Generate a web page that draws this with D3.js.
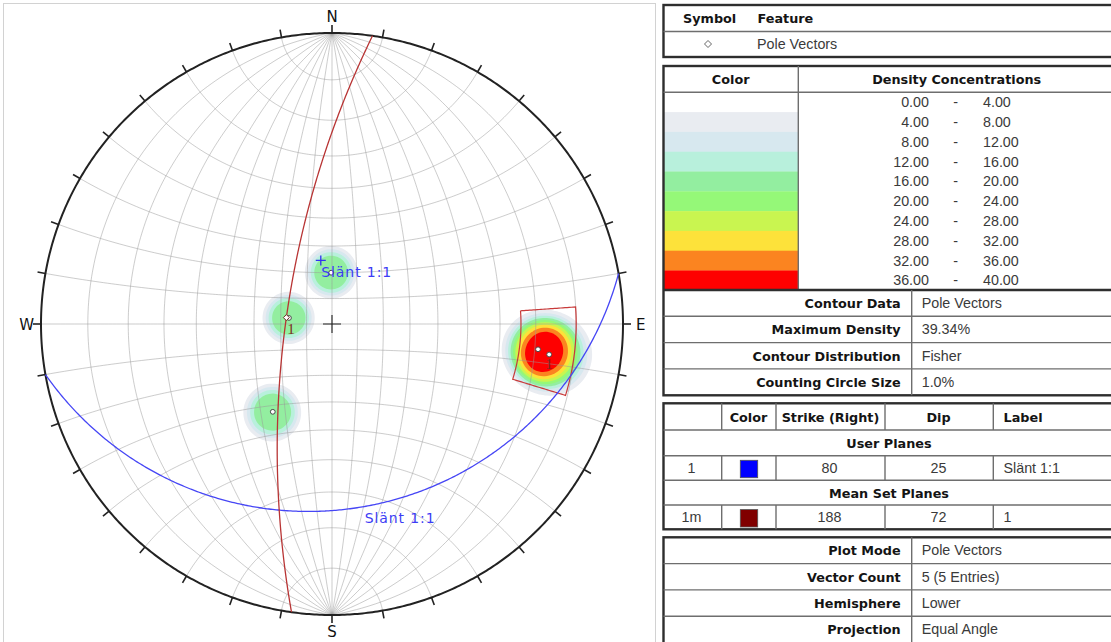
<!DOCTYPE html>
<html lang="en">
<head>
<meta charset="UTF-8">
<title>Stereonet - Pole Vectors</title>
<script src="https://d3js.org/d3.v7.min.js"></script>
<style>
  body { margin: 0; background: #fff; }
  svg { display: block; }
</style>
</head>
<body>
<svg id="chart" width="1111" height="642"></svg>
<script>
// pole vectors, trend / plunge in degrees
const poleTrend  = [97, 98, 278, 214, 359];
const polePlunge = [19, 16, 73, 50, 70];

// planes (strike right-hand rule / dip)
const planeSet    = ["User Planes", "Mean Set Planes"];
const planeId     = ["1", "1m"];
const planeStrike = [80, 188];
const planeDip    = [25, 72];
const planeLabel  = ["Slänt 1:1", "1"];
const planeSwatch = ["#0000ff", "#800000"];
const planeLine   = ["#4646f5", "#b83434"];

// set window limits
const windowTrend  = [86, 107];
const windowPlunge = [10, 24];

// density legend
const densityBreaks = [0, 4, 8, 12, 16, 20, 24, 28, 32, 36, 40];
const densityColors = ["#ffffff", "#e9ecf1", "#d7e8ef", "#b8f0dc", "#93eea0",
                       "#95f878", "#c9f550", "#fde23a", "#fb8420", "#fe0000"];

const contourKeys   = ["Contour Data", "Maximum Density", "Contour Distribution", "Counting Circle Size"];
const contourValues = ["Pole Vectors", "39.34%", "Fisher", "1.0%"];
const plotKeys      = ["Plot Mode", "Vector Count", "Hemisphere", "Projection"];
const plotValues    = ["Pole Vectors", "5 (5 Entries)", "Lower", "Equal Angle"];

const compass = [["N", 0], ["E", 90], ["S", 180], ["W", 270]];

const svg = d3.select("#chart");
const cx = 332, cy = 324, R = 291;
const rad = Math.PI / 180;

// equal angle = stereographic, centred on the nadir, N up
const proj = d3.geoStereographic().scale(R).translate([cx, cy]).precision(0.1);
const projClip = d3.geoStereographic().scale(R).translate([cx, cy]).clipAngle(90).precision(0.1);
const path = d3.geoPath(proj);
const clipPath = d3.geoPath(projClip);

function toGeo(trend, plunge) {
    const t = trend * rad, p = plunge * rad;
    const n = Math.cos(p) * Math.cos(t), e = Math.cos(p) * Math.sin(t), d = Math.sin(p);
    return [Math.atan2(e, d) / rad, Math.asin(n) / rad];
}

// panel frame
svg.append("rect")
    .attr("x", 3.5).attr("y", 3.5).attr("width", 652).attr("height", 660)
    .attr("fill", "none").attr("stroke", "#d2d2d2");

// ---- density (fisher-like weighting of the poles) ----
const kernelWidth = 9, kernelPower = 4.5;
const step = 2;
const nGrid = Math.ceil(2 * R / step) + 1;
const gx0 = cx - R, gy0 = cy - R;
const poleGeo = poleTrend.map((t, i) => toGeo(t, polePlunge[i]));
const dens = new Float64Array(nGrid * nGrid);
for (let j = 0; j < nGrid; j++) {
    for (let i = 0; i < nGrid; i++) {
        const x = gx0 + i * step, y = gy0 + j * step;
        if ((x - cx) ** 2 + (y - cy) ** 2 > R * R) continue;
        const g = proj.invert([x, y]);
        let sum = 0;
        poleGeo.forEach(p => {
            let th = d3.geoDistance(g, p) / rad;
            th = Math.min(th, 180 - th);
            sum += Math.exp(-Math.pow(th / kernelWidth, kernelPower));
        });
        dens[j * nGrid + i] = sum * 100 / poleGeo.length;
    }
}
const bands = d3.contours().size([nGrid, nGrid]).thresholds(densityBreaks.slice(1, -1))(dens);
const gridPath = d3.geoPath(d3.geoIdentity().scale(step).translate([gx0 - step / 2, gy0 - step / 2]));
svg.append("g").selectAll("path")
    .data(bands)
    .join("path")
    .attr("d", gridPath)
    .attr("fill", d => densityColors[densityBreaks.indexOf(d.value)])
    .attr("stroke", "none");

// ---- wulff net ----
const net = [];
for (let lon = -80; lon <= 80; lon += 10)
    net.push({type: "LineString", coordinates: d3.range(-90, 90.5, 1).map(lat => [lon, lat])});
for (let lat = -80; lat <= 80; lat += 10)
    net.push({type: "LineString", coordinates: d3.range(-90, 90.5, 1).map(lon => [lon, lat])});
svg.append("g").selectAll("path")
    .data(net)
    .join("path")
    .attr("d", path)
    .attr("fill", "none")
    .attr("stroke", "#9a9a9a")
    .attr("stroke-opacity", 0.5)
    .attr("stroke-width", 1);

// primitive circle + ticks
svg.append("path")
    .datum(d3.geoCircle().center([0, 0]).radius(90).precision(0.5)())
    .attr("d", path)
    .attr("fill", "none")
    .attr("stroke", "#222")
    .attr("stroke-width", 2);

const tickG = svg.append("g");
d3.range(0, 360, 10).forEach(az => {
    const [x, y] = proj(toGeo(az, 0.0001));
    const ux = (x - cx) / R, uy = (y - cy) / R;
    tickG.append("line")
        .attr("x1", x).attr("y1", y)
        .attr("x2", x + ux * 8).attr("y2", y + uy * 8)
        .attr("stroke", "#222").attr("stroke-width", 1.6);
});
compass.forEach(([s, az]) => {
    const [x, y] = proj(toGeo(az, 0.0001));
    const t = svg.append("text")
        .attr("font-family", "DejaVu Sans")
        .attr("font-size", 15)
        .attr("fill", "#111")
        .text(s);
    if (s === "N") t.attr("x", x).attr("y", y - 11).attr("text-anchor", "middle");
    if (s === "S") t.attr("x", x).attr("y", y + 22).attr("text-anchor", "middle");
    if (s === "E") t.attr("x", x + 13).attr("y", y + 5.5);
    if (s === "W") t.attr("x", x - 7).attr("y", y + 5.5).attr("text-anchor", "end");
});

// center cross
const c0 = proj([0, 0]);
svg.append("path")
    .attr("d", `M${c0[0] - 9},${c0[1]}H${c0[0] + 9}M${c0[0]},${c0[1] - 9}V${c0[1] + 9}`)
    .attr("stroke", "#222").attr("stroke-width", 1.1);

// ---- set window ----
const [wt0, wt1] = windowTrend, [wp0, wp1] = windowPlunge;
const win = [];
d3.range(wt0, wt1 + 0.01, 0.5).forEach(t => win.push(toGeo(t, wp1)));
d3.range(wp1, wp0 - 0.01, -0.5).forEach(p => win.push(toGeo(wt1, p)));
d3.range(wt1, wt0 - 0.01, -0.5).forEach(t => win.push(toGeo(t, wp0)));
d3.range(wp0, wp1 + 0.01, 0.5).forEach(p => win.push(toGeo(wt0, p)));
svg.append("path")
    .datum({type: "LineString", coordinates: win})
    .attr("d", path)
    .attr("fill", "none")
    .attr("stroke", "#c83a3a")
    .attr("stroke-width", 1.2);

// ---- planes ----
planeStrike.forEach((strike, i) => {
    const poleT = (strike - 90 + 360) % 360, poleP = 90 - planeDip[i];
    const ring = d3.geoCircle().center(toGeo(poleT, poleP)).radius(90).precision(0.5)().coordinates[0];
    svg.append("path")
        .datum({type: "LineString", coordinates: ring})
        .attr("d", clipPath)
        .attr("fill", "none")
        .attr("stroke", planeLine[i])
        .attr("stroke-width", 1.3);
});

// pole markers
svg.append("g").selectAll("circle")
    .data(poleGeo)
    .join("circle")
    .attr("cx", d => proj(d)[0])
    .attr("cy", d => proj(d)[1])
    .attr("r", 2.4)
    .attr("fill", "#fff")
    .attr("stroke", "#4a4a4a")
    .attr("stroke-width", 1);

// user plane: pole "+" and labels
{
    const i = 0;
    const pole = proj(toGeo((planeStrike[i] - 90 + 360) % 360, 90 - planeDip[i]));
    const dipv = proj(toGeo(planeStrike[i] + 90, planeDip[i]));
    svg.append("path")
        .attr("d", `M${pole[0] - 5},${pole[1]}H${pole[0] + 5}M${pole[0]},${pole[1] - 5}V${pole[1] + 5}`)
        .attr("stroke", "#3232f0").attr("stroke-width", 1.3);
    [pole, dipv].forEach(p => {
        svg.append("text")
            .attr("x", p[0] + 0.5).attr("y", p[1] + 16.5)
            .attr("font-family", "DejaVu Sans").attr("font-size", 14)
            .attr("letter-spacing", 0.9)
            .attr("fill", "#3c3cf5")
            .text(planeLabel[i]);
    });
}

// mean set plane: dip vector marker + labels
{
    const i = 1;
    const pole = proj(toGeo((planeStrike[i] - 90 + 360) % 360, 90 - planeDip[i]));
    const dipv = proj(toGeo(planeStrike[i] + 90, planeDip[i]));
    svg.append("path")
        .attr("d", `M${dipv[0]},${dipv[1] - 3}L${dipv[0] + 3},${dipv[1]}L${dipv[0]},${dipv[1] + 3}L${dipv[0] - 3},${dipv[1]}Z`)
        .attr("fill", "#fff").attr("stroke", "#6a3020").attr("stroke-width", 1);
    [[dipv, 1], [pole, 4]].forEach(([p, dx]) => {
        svg.append("text")
            .attr("x", p[0] + dx).attr("y", p[1] + 16)
            .attr("font-family", "Liberation Serif").attr("font-size", 15)
            .attr("fill", "#7a2a22")
            .text(planeLabel[i]);
    });
}

// ---- tables ----
const tbl = svg.append("g");
const L = 663.5, Rt = 1130, colSplit = 911.7;
function box(y0, y1) {
    tbl.append("rect").attr("x", L).attr("y", y0).attr("width", Rt - L).attr("height", y1 - y0)
        .attr("fill", "none").attr("stroke", "#2e2e2e").attr("stroke-width", 2.4);
}
function hl(y, x0 = L, x1 = Rt, w = 1.4, c = "#6e6e6e") {
    tbl.append("line").attr("x1", x0).attr("x2", x1).attr("y1", y).attr("y2", y)
        .attr("stroke", c).attr("stroke-width", w);
}
function vl(x, y0, y1, w = 1.4, c = "#6e6e6e") {
    tbl.append("line").attr("x1", x).attr("x2", x).attr("y1", y0).attr("y2", y1)
        .attr("stroke", c).attr("stroke-width", w);
}
function txt(x, y, s, anchor = "start", bold = false) {
    tbl.append("text").attr("x", x).attr("y", y)
        .attr("text-anchor", anchor)
        .attr("font-family", bold ? "DejaVu Sans" : "Liberation Sans")
        .attr("font-weight", bold ? "bold" : "normal")
        .attr("font-size", bold ? 12.8 : 14.3)
        .attr("fill", bold ? "#141414" : "#3a3a3a")
        .text(s);
}

// symbol / feature
box(5, 57);
hl(31.5);
txt(683, 22.5, "Symbol", "start", true);
txt(757.5, 22.5, "Feature", "start", true);
tbl.append("path").attr("d", "M708,40.5L711.5,44L708,47.5L704.5,44Z")
    .attr("fill", "#fff").attr("stroke", "#666").attr("stroke-width", 1);
txt(757, 49, "Pole Vectors");

// density legend
const yLeg0 = 92.3, rowH = 19.8;
const legRows = densityColors.map((c, i) => ({c, lo: densityBreaks[i], hi: densityBreaks[i + 1]}));
tbl.selectAll("rect.sw").data(legRows).join("rect").attr("class", "sw")
    .attr("x", L).attr("y", (d, i) => yLeg0 + i * rowH)
    .attr("width", 798.3 - L).attr("height", rowH + 0.3)
    .attr("fill", d => d.c);
box(66, 395.3);
hl(yLeg0);
vl(798.3, 66, 290);
txt(730.7, 84, "Color", "middle", true);
txt(956.7, 84, "Density Concentrations", "middle", true);
legRows.forEach((d, i) => {
    const y = yLeg0 + i * rowH + rowH / 2 + 5;
    txt(929, y, d.lo.toFixed(2), "end");
    txt(955.7, y, "-", "middle");
    txt(983, y, d.hi.toFixed(2), "start");
});
hl(290, L, Rt, 2.4, "#2e2e2e");
const infoH = 26.3;
contourKeys.forEach((k, i) => {
    const y0 = 290 + i * infoH;
    if (i > 0) hl(y0);
    txt(900.7, y0 + infoH / 2 + 5, k, "end", true);
    txt(921.7, y0 + infoH / 2 + 5, contourValues[i]);
});
vl(colSplit, 290, 395.3);

// planes table
const pRows = [403.3, 430, 455.7, 480.3, 505, 529.3];
const pCols = [721.7, 776, 885, 993.3];
box(pRows[0], pRows[5]);
pRows.slice(1, 5).forEach(y => hl(y));
[[0, 1], [2, 3], [4, 5]].forEach(([a, b]) => pCols.forEach(x => vl(x, pRows[a], pRows[b])));
const hy = (a) => (pRows[a] + pRows[a + 1]) / 2 + 5;
txt(748.5, hy(0), "Color", "middle", true);
txt(830.5, hy(0), "Strike (Right)", "middle", true);
txt(938.5, hy(0), "Dip", "middle", true);
txt(1003.5, hy(0), "Label", "start", true);
planeSet.forEach((s, i) => {
    const rHead = 1 + i * 2, rData = 2 + i * 2;
    txt(889, hy(rHead), s, "middle", true);
    txt(691.5, hy(rData), planeId[i], "middle");
    tbl.append("rect")
        .attr("x", 740.3).attr("y", pRows[rData] + 4.6)
        .attr("width", 17.4).attr("height", 17.4)
        .attr("fill", planeSwatch[i]).attr("stroke", "#555").attr("stroke-width", 0.8);
    txt(829.5, hy(rData), planeStrike[i], "middle");
    txt(938.5, hy(rData), planeDip[i], "middle");
    txt(1003.5, hy(rData), planeLabel[i], "start");
});

// plot info
const yPlot0 = 537.3;
box(yPlot0, yPlot0 + 4 * infoH + 2);
plotKeys.forEach((k, i) => {
    const y0 = yPlot0 + i * infoH;
    if (i > 0) hl(y0);
    txt(900.7, y0 + infoH / 2 + 5, k, "end", true);
    txt(921.7, y0 + infoH / 2 + 5, plotValues[i]);
});
vl(colSplit, yPlot0, yPlot0 + 4 * infoH + 2);
</script>
</body>
</html>
